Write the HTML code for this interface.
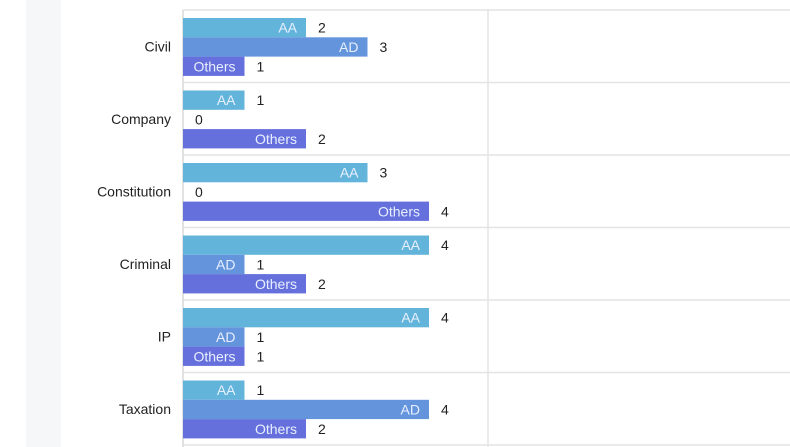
<!DOCTYPE html>
<html><head><meta charset="utf-8"><style>
body{margin:0;width:790px;height:447px;overflow:hidden;background:#fff;font-family:"Liberation Sans",sans-serif}
#side{position:absolute;left:26px;top:0;width:35px;height:447px;background:#f6f7f9}
</style></head><body>
<div id="side"></div>
<svg id="c" width="790" height="447" style="position:absolute;left:0;top:0"></svg>
<script>
const categories=["Civil","Company","Constitution","Criminal","IP","Taxation"];
const seriesNames=["AA","AD","Others"];
const aaValues=[2,1,3,4,4,1];
const adValues=[3,0,0,1,1,4];
const othersValues=[1,2,4,2,1,2];
const colors=["#63b4da","#6494dc","#6570dc"];
const svg=document.getElementById('c');
const NS="http://www.w3.org/2000/svg";
const x0=183,unit=61.5,top0=10,band=72.5,bh=19.3,pad=8;
const xs=v=>x0+v*unit;
const ys=i=>top0+i*band;
function mk(t,a){const e=document.createElementNS(NS,t);for(const k in a)e.setAttribute(k,a[k]);svg.appendChild(e);return e;}
for(let i=0;i<=categories.length;i++){
 const l=mk('line',{x1:x0,x2:790,y1:ys(i),y2:ys(i),stroke:'#e4e4e4','stroke-width':1.5});
 
 
}
const vg=mk('line',{x1:488,x2:488,y1:top0,y2:447,stroke:'#e4e4e4','stroke-width':1.5});


const ax=mk('line',{x1:x0,x2:x0,y1:top0,y2:447,stroke:'#d8d8d8','stroke-width':1.5});


const series=[aaValues,adValues,othersValues];
categories.forEach((c,i)=>{
 const t=mk('text',{x:171,y:ys(i)+band/2+5,'text-anchor':'end','font-size':14,fill:'#222'});
 t.textContent=c;
 
 
 series.forEach((s,j)=>{
  const v=s[i],y=ys(i)+pad+j*bh,w=xs(v)-x0;
  if(v>0){
   const r=mk('rect',{x:x0,y:y,width:w,height:bh,fill:colors[j]});
   
   
   const lt=mk('text',{x:xs(v)-9,y:y+bh/2+5,'text-anchor':'end','font-size':14,fill:'#e8f0ff'});
   lt.textContent=seriesNames[j];
   
   
  }
  const vt=mk('text',{x:xs(v)+12,y:y+bh/2+5,'font-size':14,fill:'#222'});
  vt.textContent=v;
  
  
 });
});
</script>
</body></html>
